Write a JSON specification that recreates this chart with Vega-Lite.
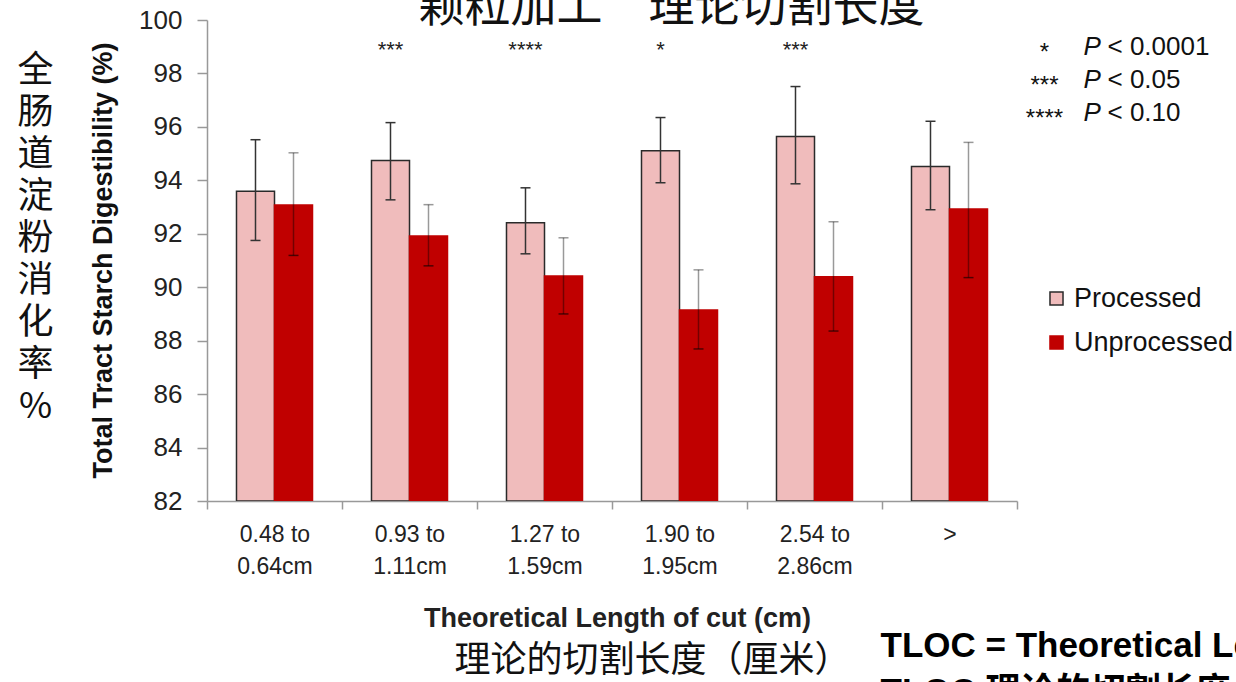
{
  "$schema": "https://vega.github.io/schema/vega-lite/v6.json",
  "autosize": {"type": "none"},
  "width": 810,
  "height": 481,
  "padding": {"left": 207, "top": 20, "right": 219, "bottom": 181},
  "background": "white",
  "config": {
    "view": {"stroke": null},
    "font": "Liberation Sans",
    "axis": {"grid": false},
    "legend": {
      "orient": "none", "legendX": 836, "legendY": 265, "padding": 0,
      "symbolType": "square", "symbolSize": 170, "symbolStrokeWidth": 1.5,
      "labelFont": "Liberation Sans", "labelFontSize": 27, "labelColor": "#111",
      "labelOffset": 4, "rowPadding": 16
    }
  },
  "datasets": {
    "bars": [
      {"cat": "0.48 to 0.64cm", "type": "Processed", "mean": 93.59, "lo": 91.75, "hi": 95.52},
      {"cat": "0.48 to 0.64cm", "type": "Unprocessed", "mean": 93.08, "lo": 91.19, "hi": 95.03},
      {"cat": "0.93 to 1.11cm", "type": "Processed", "mean": 94.74, "lo": 93.27, "hi": 96.16},
      {"cat": "0.93 to 1.11cm", "type": "Unprocessed", "mean": 91.92, "lo": 90.8, "hi": 93.09},
      {"cat": "1.27 to 1.59cm", "type": "Processed", "mean": 92.41, "lo": 91.25, "hi": 93.72},
      {"cat": "1.27 to 1.59cm", "type": "Unprocessed", "mean": 90.42, "lo": 89.0, "hi": 91.85},
      {"cat": "1.90 to 1.95cm", "type": "Processed", "mean": 95.11, "lo": 93.91, "hi": 96.35},
      {"cat": "1.90 to 1.95cm", "type": "Unprocessed", "mean": 89.15, "lo": 87.69, "hi": 90.65},
      {"cat": "2.54 to 2.86cm", "type": "Processed", "mean": 95.64, "lo": 93.87, "hi": 97.51},
      {"cat": "2.54 to 2.86cm", "type": "Unprocessed", "mean": 90.39, "lo": 88.36, "hi": 92.45},
      {"cat": ">", "type": "Processed", "mean": 94.52, "lo": 92.9, "hi": 96.21},
      {"cat": ">", "type": "Unprocessed", "mean": 92.93, "lo": 90.36, "hi": 95.42}
    ],
    "stars": [
      {"cat": "0.93 to 1.11cm", "type": "Processed", "sig": "***"},
      {"cat": "1.27 to 1.59cm", "type": "Processed", "sig": "****"},
      {"cat": "1.90 to 1.95cm", "type": "Processed", "sig": "*"},
      {"cat": "2.54 to 2.86cm", "type": "Processed", "sig": "***"}
    ]
  },
  "layer": [
    {
      "encoding": {
        "x": {
          "field": "cat", "type": "nominal", "sort": null,
          "scale": {"paddingInner": 0, "paddingOuter": 0},
          "axis": {
            "title": "Theoretical Length of cut (cm)",
            "titleFont": "Liberation Sans", "titleFontWeight": "bold", "titleFontSize": 27, "titleColor": "#222",
            "titleX": 410, "titleY": 117, "titleBaseline": "middle", "titleAlign": "center",
            "labelExpr": "[slice(datum.label,0,7), slice(datum.label,8)]",
            "labelFont": "Liberation Sans", "labelFontSize": 23, "labelLineHeight": 32,
            "labelColor": "#222", "labelPadding": 14, "labelAngle": 0, "labelBaseline": "top",
            "tickBand": "extent", "tickSize": 8, "tickColor": "#999", "tickWidth": 1.5,
            "domainColor": "#999", "domainWidth": 1.5
          }
        },
        "xOffset": {"field": "type", "type": "nominal", "scale": {"domain": ["Processed", "Unprocessed"], "paddingInner": 0, "paddingOuter": 0.776}},
        "y": {
          "type": "quantitative",
          "scale": {"domain": [82, 100], "zero": false, "nice": false},
          "axis": {
            "title": "Total Tract Starch Digestibility (%)",
            "titleFont": "Liberation Sans", "titleFontWeight": "bold", "titleFontSize": 27, "titleColor": "#111",
            "titleX": -104, "titleY": 240, "titleAngle": 270, "titleAlign": "center", "titleBaseline": "middle",
            "values": [82, 84, 86, 88, 90, 92, 94, 96, 98, 100],
            "labelFont": "Liberation Sans", "labelFontSize": 26, "labelColor": "#222", "labelPadding": 15,
            "tickSize": 10, "tickColor": "#999", "tickWidth": 1.5,
            "domainColor": "#999", "domainWidth": 1.5
          }
        }
      },
      "layer": [
        {
          "data": {"name": "bars"},
          "mark": {"type": "bar", "strokeWidth": 1.5, "clip": true},
          "encoding": {
            "y": {"field": "mean", "type": "quantitative", "scale": {"domain": [82, 100], "zero": false, "nice": false}},
            "y2": {"datum": 82},
            "fill": {"field": "type", "type": "nominal", "title": null, "scale": {"domain": ["Processed", "Unprocessed"], "range": ["#F0BCBC", "#C00000"]}},
            "stroke": {"field": "type", "type": "nominal", "title": null, "scale": {"domain": ["Processed", "Unprocessed"], "range": ["#2a2a2a", "#C00000"]}}
          }
        },
        {
          "data": {"name": "bars"},
          "mark": {"type": "rule", "strokeWidth": 1.5},
          "encoding": {
            "y": {"field": "lo", "type": "quantitative"},
            "y2": {"field": "hi"},
            "color": {"condition": {"test": "datum.type === 'Processed'", "value": "#333333"}, "value": "#000000"},
            "strokeOpacity": {"condition": {"test": "datum.type === 'Processed'", "value": 1}, "value": 0.4}
          }
        },
        {
          "data": {"name": "bars"},
          "mark": {"type": "tick", "size": 10, "thickness": 1.5},
          "encoding": {
            "y": {"field": "lo", "type": "quantitative"},
            "color": {"condition": {"test": "datum.type === 'Processed'", "value": "#333333"}, "value": "#000000"},
            "opacity": {"condition": {"test": "datum.type === 'Processed'", "value": 1}, "value": 0.6}
          }
        },
        {
          "data": {"name": "bars"},
          "mark": {"type": "tick", "size": 10, "thickness": 1.5},
          "encoding": {
            "y": {"field": "hi", "type": "quantitative"},
            "color": {"condition": {"test": "datum.type === 'Processed'", "value": "#333333"}, "value": "#000000"},
            "opacity": {"condition": {"test": "datum.type === 'Processed'", "value": 1}, "value": 0.4}
          }
        },
        {
          "data": {"name": "stars"},
          "mark": {"type": "text", "fontSize": 22, "align": "center", "baseline": "alphabetic", "color": "#222"},
          "encoding": {
            "y": {"datum": 98.6, "type": "quantitative"},
            "text": {"field": "sig", "type": "nominal"}
          }
        }
      ]
    },
    {
      "data": {"name": "bars"},
      "mark": {"type": "point", "opacity": 0},
      "encoding": {
        "x": {"field": "cat", "type": "nominal", "sort": null, "axis": {
          "orient": "bottom", "labels": false, "ticks": false, "domain": false,
          "title": "理论的切割长度（厘米）", "titleFont": "Noto Sans CJK SC", "titleFontWeight": "normal",
          "titleFontSize": 36, "titleColor": "#111", "titleX": 445, "titleY": 159, "titleAlign": "center", "titleBaseline": "middle"
        }},
        "y": {"field": "mean", "type": "quantitative", "axis": {
          "orient": "left", "labels": false, "ticks": false, "domain": false, "grid": false,
          "title": ["全", "肠", "道", "淀", "粉", "消", "化", "率", "%"], "titleFont": "Noto Sans CJK SC", "titleFontWeight": "normal",
          "titleFontSize": 36, "titleLineHeight": 42, "titleColor": "#111", "titleAngle": 0,
          "titleX": -172, "titleY": 33, "titleAlign": "center", "titleBaseline": "top"
        }}
      }
    },
    {
      "data": {"name": "bars"},
      "mark": {"type": "point", "opacity": 0},
      "encoding": {
        "x": {"field": "cat", "type": "nominal", "sort": null, "axis": {
          "orient": "top", "labels": false, "ticks": false, "domain": false,
          "title": "颗粒加工　理论切割长度", "titleFont": "Noto Sans CJK SC", "titleFontWeight": "normal",
          "titleFontSize": 46, "titleColor": "#111", "titleX": 464, "titleY": 0, "titleAlign": "center", "titleBaseline": "alphabetic"
        }},
        "y": {"field": "mean", "type": "quantitative", "axis": {
          "orient": "right", "labels": false, "ticks": false, "domain": false, "grid": false,
          "title": ["TLOC = Theoretical Length of Cut", "TLOC 理论的切割长度"],
          "titleFont": "Liberation Sans, Noto Sans CJK SC", "titleFontWeight": "bold",
          "titleFontSize": 35, "titleLineHeight": 46, "titleColor": "#000", "titleAngle": 0,
          "titleX": -137, "titleY": 608, "titleAlign": "left", "titleBaseline": "top"
        }}
      }
    },
    {
      "data": {"name": "bars"},
      "mark": {"type": "point", "opacity": 0},
      "encoding": {
        "x": {"field": "cat", "type": "nominal", "sort": null, "axis": null},
        "y": {"field": "mean", "type": "quantitative", "axis": {
          "orient": "right", "labels": false, "ticks": false, "domain": false, "grid": false,
          "title": ["*", "***", "****"], "titleFont": "Liberation Sans", "titleFontWeight": "normal",
          "titleFontSize": 24, "titleLineHeight": 33, "titleColor": "#111", "titleAngle": 0,
          "titleX": 27, "titleY": 39, "titleAlign": "center", "titleBaseline": "alphabetic"
        }}
      }
    },
    {
      "data": {"name": "bars"},
      "mark": {"type": "point", "opacity": 0},
      "encoding": {
        "x": {"field": "cat", "type": "nominal", "sort": null, "axis": null},
        "y": {"field": "mean", "type": "quantitative", "axis": {
          "orient": "right", "labels": false, "ticks": false, "domain": false, "grid": false,
          "title": ["P", "P", "P"], "titleFont": "Liberation Sans", "titleFontWeight": "normal", "titleFontStyle": "italic",
          "titleFontSize": 26, "titleLineHeight": 33, "titleColor": "#111", "titleAngle": 0,
          "titleX": 66, "titleY": 34, "titleAlign": "left", "titleBaseline": "alphabetic"
        }}
      }
    },
    {
      "data": {"name": "bars"},
      "mark": {"type": "point", "opacity": 0},
      "encoding": {
        "x": {"field": "cat", "type": "nominal", "sort": null, "axis": null},
        "y": {"field": "mean", "type": "quantitative", "axis": {
          "orient": "right", "labels": false, "ticks": false, "domain": false, "grid": false,
          "title": ["< 0.0001", "< 0.05", "< 0.10"], "titleFont": "Liberation Sans", "titleFontWeight": "normal",
          "titleFontSize": 26, "titleLineHeight": 33, "titleColor": "#111", "titleAngle": 0,
          "titleX": 90, "titleY": 34, "titleAlign": "left", "titleBaseline": "alphabetic"
        }}
      }
    }
  ],
  "resolve": {"scale": {"x": "independent", "y": "independent"}}
}
